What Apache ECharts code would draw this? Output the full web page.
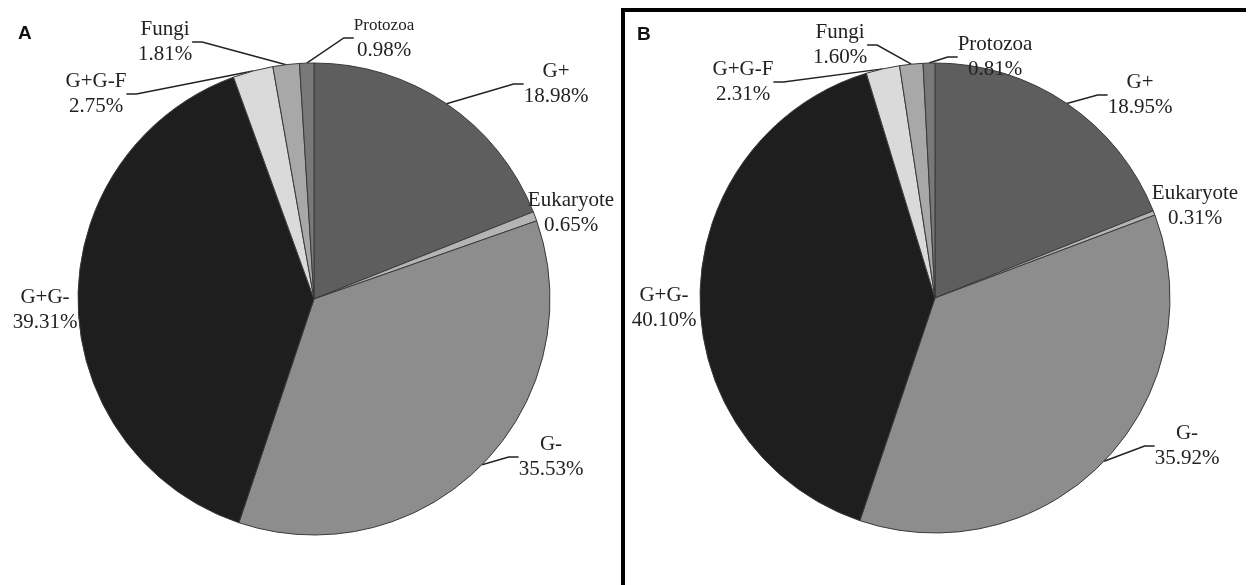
<!DOCTYPE html>
<html>
<head>
<meta charset="utf-8">
<script src="https://cdn.jsdelivr.net/npm/echarts@6/dist/echarts.min.js"></script>
<style>html,body{margin:0;padding:0;background:#fff;}#c{width:1249px;height:585px;}</style>
</head>
<body>
<div id="c"></div>
<script>
const categories = ['G+', 'Eukaryote', 'G-', 'G+G-', 'G+G-F', 'Fungi', 'Protozoa'];
const valuesA = [18.98, 0.65, 35.53, 39.31, 2.75, 1.81, 0.98];
const valuesB = [18.95, 0.31, 35.92, 40.10, 2.31, 1.60, 0.81];
const panelTitles = ['A', 'B'];

const sliceColors = ['#5e5e5e', '#b4b4b4', '#8d8d8d', '#1e1e1e', '#dadada', '#a8a8a8', '#787878'];
const hideLine = { 'Eukaryote': true, 'G+G-': true };

// label block centers (layout only)
const labelPosA = [[556, 84], [571, 213], [551, 457], [45, 310], [96, 94], [165, 42], [384, 38]];
const labelPosB = [[1140, 95], [1195, 206], [1187, 446], [664, 308], [743, 82], [840, 45], [995, 57]];

function buildData(values) {
  return categories.map((name, i) => {
    const item = {
      name: name,
      value: values[i],
      itemStyle: { color: sliceColors[i] }
    };
    if (hideLine[name]) item.labelLine = { show: false };
    return item;
  });
}

function makeSeries(values, center, radius, pos, smallProtozoa) {
  return {
    type: 'pie',
    center: center,
    radius: radius,
    startAngle: 90,
    clockwise: true,
    animation: false,
    silent: true,
    data: buildData(values),
    itemStyle: { borderColor: '#3a3a3a', borderWidth: 1 },
    label: {
      show: true,
      overflow: 'none',
      formatter: function (p) {
        const name = (smallProtozoa && p.name === 'Protozoa') ? '{s|' + p.name + '}' : p.name;
        return name + '\n' + Number(p.value).toFixed(2) + '%';
      },
      fontFamily: 'Liberation Serif',
      fontSize: 21,
      lineHeight: 25,
      color: '#222',
      rich: { s: { fontFamily: 'Liberation Serif', fontSize: 17, lineHeight: 25, color: '#222' } }
    },
    labelLine: {
      show: true,
      length: 10,
      length2: 10,
      lineStyle: { color: '#222', width: 1.5 }
    },
    labelLayout: function (params) {
      const p = pos[params.dataIndex];
      return { x: p[0], y: p[1], align: 'center', verticalAlign: 'middle', hideOverlap: false, moveOverlap: false };
    }
  };
}

const chart = echarts.init(document.getElementById('c'), null, { renderer: 'canvas' });
chart.setOption({
  backgroundColor: '#ffffff',
  animation: false,
  graphic: [
    { type: 'text', left: 18, top: 24, style: { text: panelTitles[0], font: 'bold 19px "Liberation Sans", Arial, sans-serif', fill: '#111' } },
    { type: 'text', left: 637, top: 25, style: { text: panelTitles[1], font: 'bold 19px "Liberation Sans", Arial, sans-serif', fill: '#111' } },
    { type: 'rect', shape: { x: 621, y: 8, width: 4, height: 580 }, style: { fill: '#000' } },
    { type: 'rect', shape: { x: 621, y: 8, width: 625, height: 4 }, style: { fill: '#000' } }
  ],
  series: [
    makeSeries(valuesA, [314, 299], 236, labelPosA, true),
    makeSeries(valuesB, [935, 298], 235, labelPosB, false)
  ]
});
</script>
</body>
</html>
